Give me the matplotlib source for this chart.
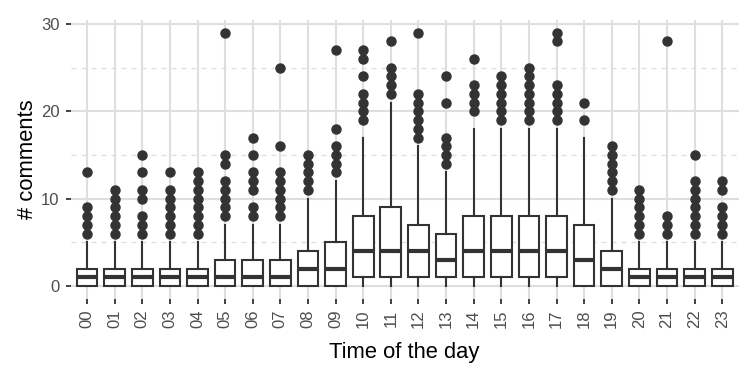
import matplotlib
matplotlib.use('Agg')
import matplotlib.pyplot as plt
from matplotlib.ticker import MultipleLocator

plt.rcParams['font.family'] = ['Liberation Sans', 'DejaVu Sans']

hours = ['%02d' % h for h in range(24)]
q1 = [0, 0, 0, 0, 0, 0, 0, 0, 0, 0, 1, 1, 1, 1, 1, 1, 1, 1, 0, 0, 0, 0, 0, 0]
med = [1, 1, 1, 1, 1, 1, 1, 1, 2, 2, 4, 4, 4, 3, 4, 4, 4, 4, 3, 2, 1, 1, 1, 1]
q3 = [2, 2, 2, 2, 2, 3, 3, 3, 4, 5, 8, 9, 7, 6, 8, 8, 8, 8, 7, 4, 2, 2, 2, 2]
whislo = [0] * 24
whishi = [5, 5, 5, 5, 5, 7, 7, 7, 10, 12, 17, 21, 16, 13, 18, 18, 18, 18, 17, 10, 5, 5, 5, 5]
outliers = [
    [6, 7, 8, 9, 13],
    [6, 7, 8, 9, 10, 11],
    [6, 7, 8, 10, 11, 13, 15],
    [6, 7, 8, 9, 10, 11, 13],
    [6, 7, 8, 9, 10, 11, 12, 13],
    [8, 9, 10, 11, 12, 14, 15, 29],
    [8, 9, 11, 12, 13, 15, 17],
    [8, 9, 10, 11, 12, 13, 16, 25],
    [11, 12, 13, 14, 15],
    [13, 14, 15, 16, 18, 27],
    [19, 20, 21, 22, 24, 26, 27],
    [22, 23, 24, 25, 28],
    [17, 18, 19, 20, 21, 22, 29],
    [14, 15, 16, 17, 21, 24],
    [20, 21, 22, 23, 26],
    [19, 20, 21, 22, 23, 24],
    [19, 20, 21, 22, 23, 24, 25],
    [19, 20, 21, 22, 23, 28, 29],
    [19, 21],
    [11, 12, 13, 14, 15, 16],
    [6, 7, 8, 9, 10, 11],
    [6, 7, 8, 28],
    [6, 7, 8, 9, 10, 11, 12, 15],
    [6, 7, 8, 9, 11, 12],
]

stats = []
for i in range(24):
    stats.append(dict(q1=q1[i], med=med[i], q3=q3[i], whislo=whislo[i],
                      whishi=whishi[i], fliers=outliers[i], label=hours[i]))

dark = '#333333'
grid = '#dedede'

fig = plt.figure(figsize=(7.5, 3.75), dpi=100)
ax = fig.add_axes([0.094, 0.203, 0.891, 0.744])

ax.bxp(stats, positions=range(24), widths=0.75, patch_artist=True,
       showcaps=False,
       boxprops=dict(facecolor='white', edgecolor=dark, linewidth=1.5),
       medianprops=dict(color=dark, linewidth=3.0, solid_capstyle='butt'),
       whiskerprops=dict(color=dark, linewidth=1.5),
       flierprops=dict(marker='o', markerfacecolor=dark, markeredgecolor=dark,
                       markersize=6.5, linestyle='none'),
       zorder=3)

ax.set_xlim(-0.6, 23.6)
ax.set_ylim(-1.45, 30.45)
ax.set_xticks(range(24))
ax.set_xticklabels(hours, rotation=90)
ax.yaxis.set_major_locator(MultipleLocator(10))
ax.yaxis.set_minor_locator(MultipleLocator(5))

ax.grid(True, which='major', axis='both', color=grid, linewidth=1.5, zorder=0)
ax.grid(True, which='minor', axis='y', color=grid, linewidth=0.9,
        linestyle=(0, (4, 4)), zorder=0)
ax.set_axisbelow(True)

for s in ax.spines.values():
    s.set_visible(False)

ax.tick_params(axis='both', which='major', length=3.5, width=1.3, color=dark,
               labelcolor='#4d4d4d', labelsize=12)
ax.tick_params(axis='x', pad=4)
ax.tick_params(axis='y', pad=4.3)
ax.tick_params(axis='y', which='minor', length=0)

ax.set_xlabel('Time of the day', fontsize=15.8, color='black', labelpad=10)
ax.set_ylabel('# comments', fontsize=15.8, color='black', labelpad=2.5)

fig.savefig('out.png', dpi=100, facecolor='white')
